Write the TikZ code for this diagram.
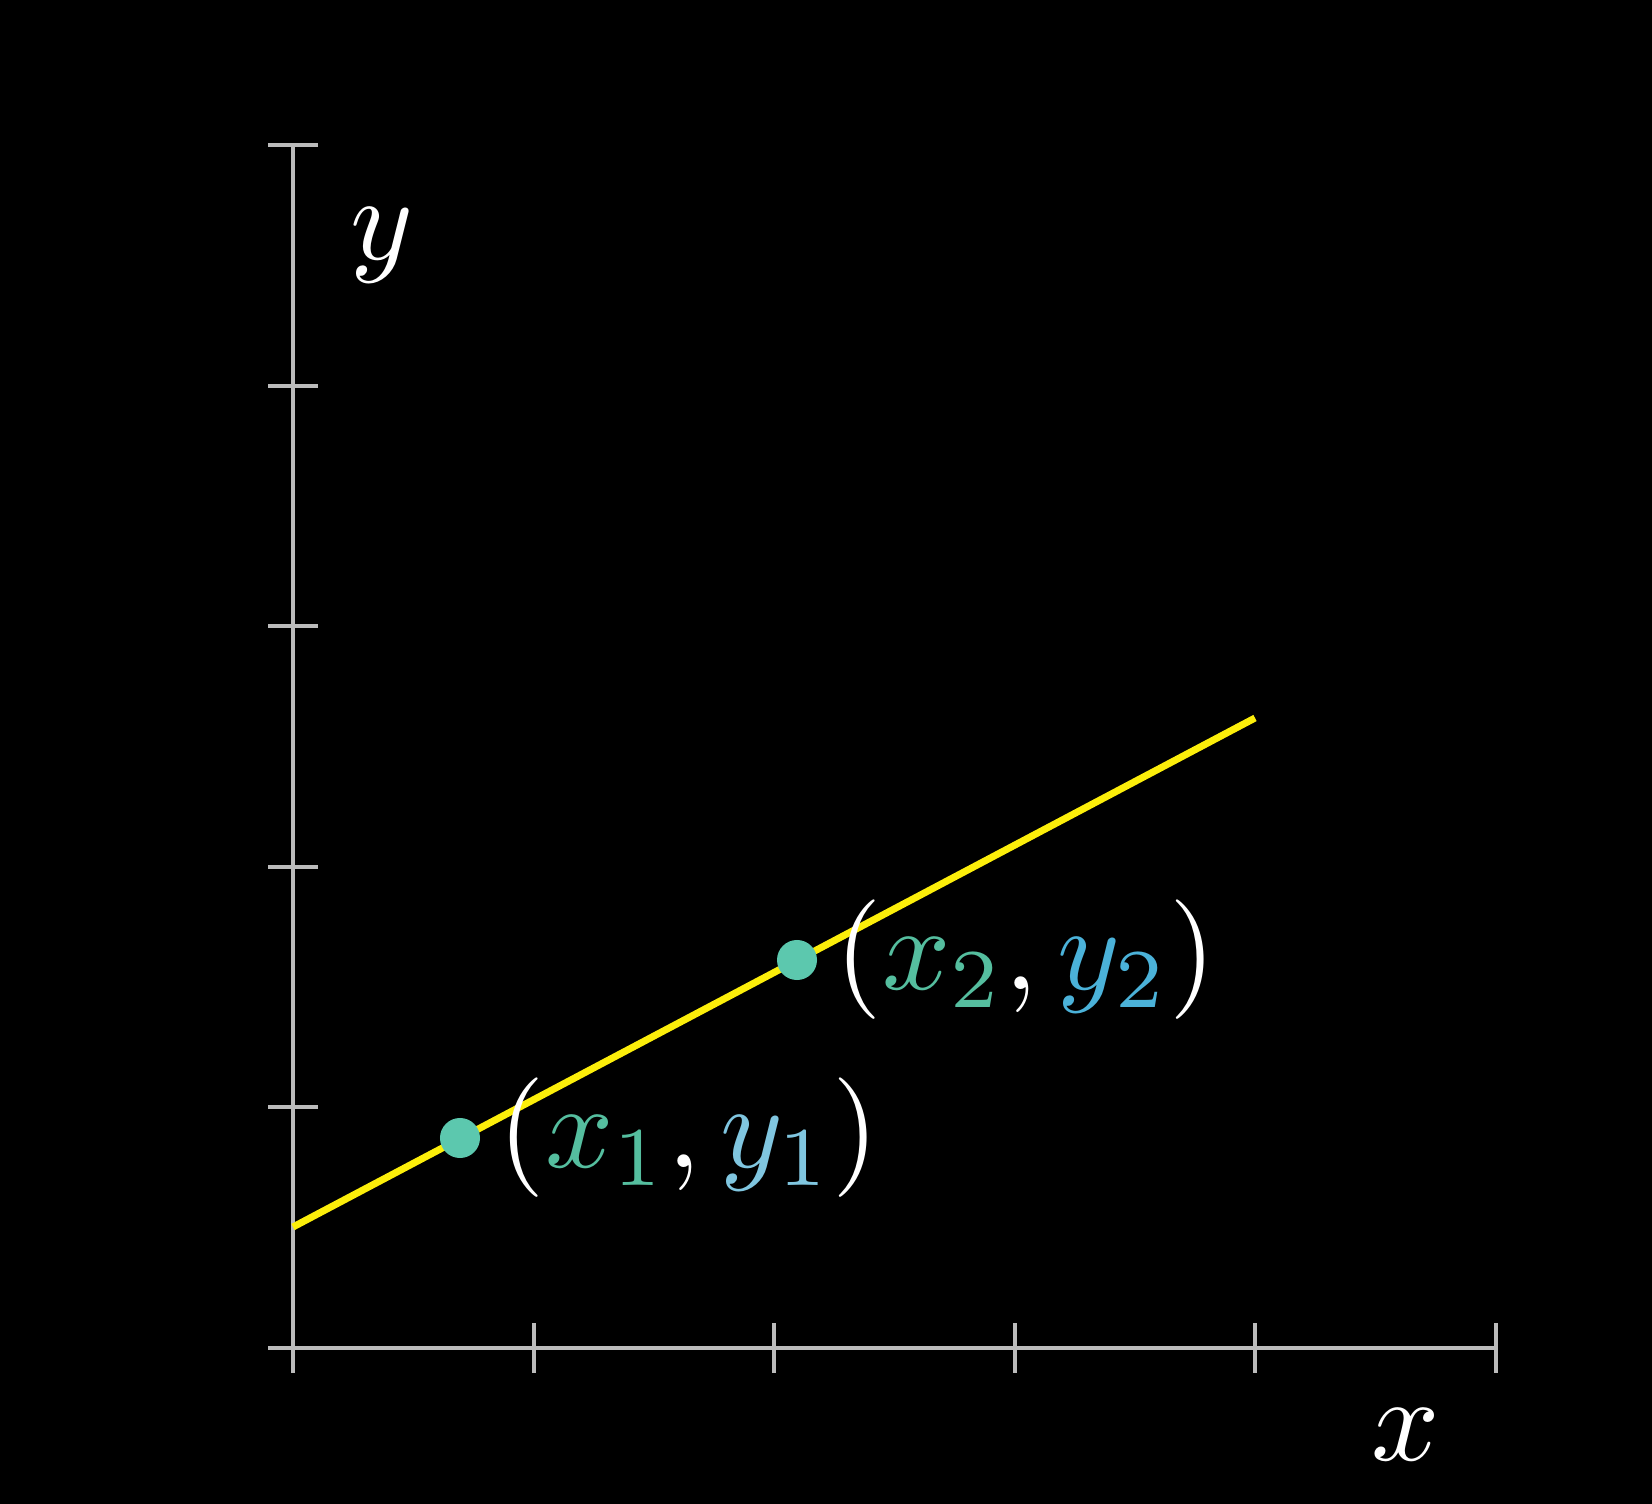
\documentclass[tikz,border=0pt]{standalone}
\usepackage{graphicx}
\usetikzlibrary{calc}
\definecolor{axisgray}{HTML}{BBBBBB}
\definecolor{lineyellow}{HTML}{FCEE0A}
\definecolor{dotteal}{HTML}{5CC8AE}
\definecolor{xteal}{HTML}{55BE9F}
\definecolor{yblueA}{HTML}{80C6E0}
\definecolor{yblueB}{HTML}{4BB2D9}
\newcommand{\bigmath}[1]{\scalebox{3.4}{$#1$}}
\begin{document}
\begin{tikzpicture}[x=0.01cm,y=-0.01cm,
  axisline/.style={draw=axisgray,line width=0.04cm},
  graphline/.style={draw=lineyellow,line width=0.07cm},
  ptdot/.style={circle,fill=dotteal,inner sep=0pt,minimum size=0.4cm},
  lbl/.style={inner sep=0pt,text=white},
]
\fill[black] (0,0) rectangle (1652,1504);
\useasboundingbox (0,0) rectangle (1652,1504);
% axes
\coordinate (O) at (293,1348);
\coordinate (ytop) at (293,145);
\coordinate (ybot) at (293,1373);
\coordinate (xl) at (268,1348);
\coordinate (xr) at (1496,1348);
\draw[axisline] (ybot) -- (ytop);
\draw[axisline] (xl) -- (xr);
\foreach \i in {1,...,5}{
  \draw[axisline] ($(293,1323)+(\i*240.6,0)$) -- ($(293,1373)+(\i*240.6,0)$);
  \draw[axisline] ($(268,1348)+(0,-\i*240.6)$) -- ($(318,1348)+(0,-\i*240.6)$);
}
% line
\coordinate (L0) at (293,1227);
\coordinate (L1) at (1255,718);
\draw[graphline] (L0) -- (L1);
% points
\node[ptdot] (p1) at (460,1138) {};
\node[ptdot] (p2) at (797,960) {};
% labels
\node[lbl,anchor=west] (l1) at (498,1138) {\bigmath{(\textcolor{xteal}{x_1}, \textcolor{yblueA}{y_1})}};
\node[lbl,anchor=west] (l2) at (835,960) {\bigmath{(\textcolor{xteal}{x_2}, \textcolor{yblueB}{y_2})}};
\node[lbl] (ylab) at (382,245) {\bigmath{y}};
\node[lbl] (xlab) at (1406,1435) {\bigmath{x}};
\end{tikzpicture}
\end{document}
